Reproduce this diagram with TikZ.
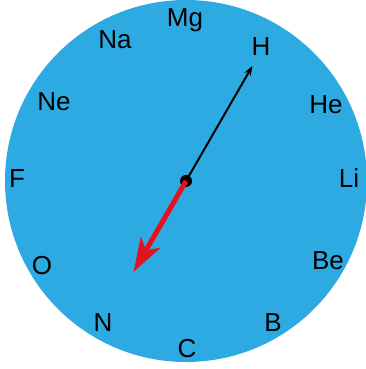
\documentclass[tikz,border=0pt]{standalone}
\usepackage{fontspec}
\setmainfont{Liberation Sans}
\usetikzlibrary{arrows.meta}
\definecolor{dialblue}{RGB}{46,170,226}
\definecolor{handred}{RGB}{228,18,30}

\begin{document}
\begin{tikzpicture}[
        x=1pt, y=1pt,
        element/.style={font=\fontsize{26}{26}\selectfont, inner sep=0pt, anchor=base, text=black},
        hub/.style={circle, fill=black, inner sep=0pt, minimum size=12pt}
    ]
        \useasboundingbox (0,0) rectangle (366,369);
        \coordinate (O) at (186,188);
        \fill[dialblue] (O) circle (181);
        % element symbols round the dial
        \foreach \px/\py/\sym in {185/342.5/Mg, 261/313/H, 326/255.5/He, 349/181.5/Li, 328/99.5/Be, 273/37.5/B,
                                  187/11.5/C, 103/37.5/N, 42/94.5/O, 17/181.5/F, 54/258.5/Ne, 115/320.5/Na}
            \node[element] (e\sym) at (\px,\py) {\sym};
        % hands
        \node[hub] (hub) at (O) {};
        \coordinate (tipH) at ([shift={(60:133)}]O);
        \coordinate (tipN) at ([shift={(-120:105)}]O);
        \draw[black, line width=2pt, -{Stealth[length=10pt, width=7pt]}] (hub.center) -- (tipH);
        \draw[handred, line width=5pt, -{Stealth[length=34pt, width=22pt, inset=9pt]}] (hub.center) -- (tipN);
    \end{tikzpicture}
\end{document}
